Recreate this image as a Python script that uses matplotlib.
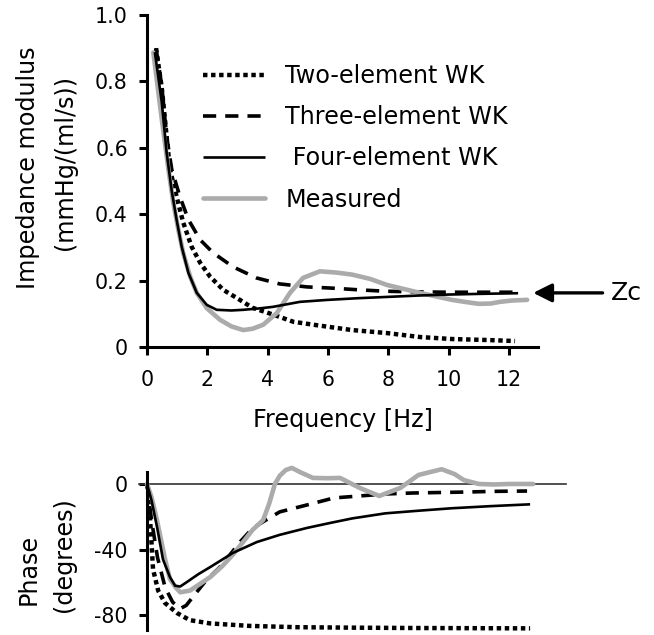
import matplotlib
matplotlib.use("Agg")
import matplotlib.pyplot as plt
from matplotlib.lines import Line2D

plt.rcParams['font.family'] = ['DejaVu Sans']
plt.rcParams['lines.scale_dashes'] = False
plt.rcParams['axes.unicode_minus'] = False

# ---------------- data: impedance modulus ----------------
two_f = [0.3, 0.49, 0.76, 1.03, 1.2, 1.48, 1.76, 2.09, 2.53, 2.97, 3.5, 4.2, 4.85, 5.6, 6.8, 7.95, 9.05, 10.1, 11.3, 12.2]
two_mod = [0.9, 0.78, 0.535, 0.435, 0.375, 0.302, 0.254, 0.212, 0.172, 0.148, 0.118, 0.097, 0.076, 0.066, 0.051, 0.042, 0.03, 0.024, 0.021, 0.018]

three_f = [0.3, 0.49, 0.65, 0.82, 1.09, 1.37, 1.76, 2.2, 2.86, 3.63, 4.4, 5.3, 6.2, 7.05, 7.9, 8.9, 10.0, 11.0, 12.3]
three_mod = [0.9, 0.786, 0.635, 0.535, 0.453, 0.384, 0.323, 0.283, 0.241, 0.208, 0.19, 0.181, 0.177, 0.172, 0.168, 0.166, 0.165, 0.165, 0.165]

four_f = [0.26, 0.49, 0.65, 0.82, 0.98, 1.15, 1.37, 1.65, 1.98, 2.31, 2.8, 3.19, 3.7, 4.18, 5.07, 6.0, 7.0, 8.0, 9.0, 10.0, 11.0, 12.3]
four_mod = [0.888, 0.737, 0.586, 0.47, 0.384, 0.302, 0.224, 0.163, 0.127, 0.112, 0.11, 0.112, 0.116, 0.121, 0.136, 0.142, 0.147, 0.151, 0.155, 0.158, 0.16, 0.162]

meas_f = [0.21, 0.49, 0.71, 0.87, 1.04, 1.2, 1.43, 1.65, 1.98, 2.42, 2.8, 3.19, 3.5, 3.85, 4.3, 4.74, 5.17, 5.73, 6.3, 6.8, 7.4, 7.95, 8.5, 9.05, 9.6, 10.1, 10.6, 11.0, 11.4, 11.7, 12.1, 12.6]
meas_mod = [0.887, 0.686, 0.535, 0.435, 0.353, 0.283, 0.212, 0.163, 0.117, 0.082, 0.062, 0.051, 0.055, 0.067, 0.102, 0.163, 0.208, 0.228, 0.224, 0.218, 0.205, 0.187, 0.175, 0.163, 0.152, 0.142, 0.135, 0.13, 0.131, 0.136, 0.14, 0.142]

zc_value = 0.163

# ---------------- data: phase ----------------
two_pf = [0, 0.05, 0.15, 0.2, 0.37, 0.6, 1.0, 1.42, 2.1, 3.4, 5.0, 7.0, 9.0, 11.0, 12.7]
two_ph = [0, -6, -36, -52, -65, -72.6, -78.7, -83, -85, -86.5, -87.3, -87.6, -87.8, -87.9, -88]

three_pf = [0, 0.15, 0.35, 0.6, 0.85, 1.1, 1.3, 1.6, 1.95, 2.4, 2.8, 3.1, 3.5, 3.85, 4.4, 5.3, 6.2, 7.05, 7.9, 8.8, 9.7, 10.6, 11.5, 12.6]
three_ph = [0, -22, -45, -63, -72, -76, -74, -67, -59, -51, -42, -35, -27, -23, -17, -12.8, -8.5, -7.3, -6.1, -5.5, -5.2, -4.9, -4.5, -4.3]

four_pf = [0, 0.15, 0.33, 0.53, 0.76, 0.93, 1.1, 1.32, 1.7, 2.1, 2.85, 3.64, 4.4, 5.3, 6.06, 6.8, 7.9, 9.0, 10.1, 11.4, 12.7]
four_ph = [0, -10, -26, -46, -56.7, -62, -62.5, -59.8, -55, -50.6, -42, -35.4, -31, -26.8, -23.8, -21, -17.9, -16.3, -14.8, -13.5, -12.4]

meas_pf = [0.0, 0.15, 0.33, 0.6, 0.76, 0.95, 1.1, 1.42, 1.75, 2.1, 2.5, 2.85, 3.2, 3.5, 3.85, 4.05, 4.24, 4.4, 4.6, 4.8, 5.1, 5.5, 6.0, 6.4, 7.05, 7.7, 8.4, 9.0, 9.77, 10.2, 10.5, 11.0, 11.5, 12.0, 12.8]
meas_ph = [0, -8, -22, -46, -58, -63, -66, -65, -61, -56.7, -50, -43, -35, -28, -22, -12, 0, 5, 8.5, 9.8, 7, 3.7, 3.5, 3.7, -2.4, -7.3, -2.4, 5.5, 9, 6, 2.4, 0, -0.3, 0, 0]

labels = ["Two-element WK", "Three-element WK", " Four-element WK", "Measured"]
mod_ticks = [0, 0.2, 0.4, 0.6, 0.8, 1.0]
mod_ticklabels = ["0", "0.2", "0.4", "0.6", "0.8", "1.0"]
freq_ticks = [0, 2, 4, 6, 8, 10, 12]
phase_ticks = [0, -40, -80]
phase_ticklabels = ["0", "-40", "-80"]

# ---------------- styles ----------------
GRAY = '#ababab'
sty_two = dict(color='black', lw=3.2, linestyle=(0, (3.2, 2.6)), dash_capstyle='butt')
sty_three = dict(color='black', lw=2.6, linestyle=(0, (9.5, 6.5)), dash_capstyle='butt')
sty_four = dict(color='black', lw=1.9, solid_capstyle='butt')
sty_meas = dict(color=GRAY, lw=3.3, solid_capstyle='round')

W, H = 654, 635
fig = plt.figure(figsize=(W / 100, H / 100), dpi=100)

SP_LW = 2.2
TICK_LEN = 5.8
FS_TICK = 14.8
FS_LAB = 17.2

# ---------------- top panel ----------------
ax1 = fig.add_axes([147 / W, (H - 347) / H, (538 - 147) / W, 332 / H])
ax1.plot(two_f, two_mod, **sty_two)
ax1.plot(three_f, three_mod, **sty_three)
ax1.plot(meas_f, meas_mod, **sty_meas)
ax1.plot(four_f, four_mod, **sty_four)
ax1.set_xlim(0, 12.96)
ax1.set_ylim(0, 1.0)
for s in ['top', 'right']:
    ax1.spines[s].set_visible(False)
for s in ['left', 'bottom']:
    ax1.spines[s].set_linewidth(SP_LW)
ax1.set_yticks(mod_ticks)
ax1.set_yticklabels(mod_ticklabels)
ax1.set_xticks(freq_ticks)
ax1.tick_params(axis='both', direction='out', length=TICK_LEN, width=SP_LW, labelsize=FS_TICK)
ax1.tick_params(axis='y', pad=8)
ax1.tick_params(axis='x', pad=11)
ax1.set_xlabel("Frequency [Hz]", fontsize=FS_LAB, labelpad=13)

# Zc arrow
ax1.annotate('', xy=(12.8, zc_value), xytext=(15.1, zc_value),
             arrowprops=dict(arrowstyle='-|>', lw=2.4, color='black', mutation_scale=28,
                             shrinkA=0, shrinkB=0),
             annotation_clip=False)
ax1.text(15.38, zc_value, "Zc", fontsize=FS_LAB + 1, va='center', ha='left', clip_on=False)

# legend
handles = [Line2D([], [], **sty_two), Line2D([], [], **sty_three),
           Line2D([], [], **sty_four), Line2D([], [], **sty_meas)]
fig.legend(handles, labels, loc='upper left', bbox_to_anchor=(203 / W, 1 - 64 / H),
           bbox_transform=fig.transFigure, frameon=False, fontsize=FS_LAB,
           handlelength=2.6, handletextpad=0.85, labelspacing=0.72,
           borderpad=0, borderaxespad=0)

# y-label (two lines)
fig.text(28 / W, 1 - 168 / H, "Impedance modulus", rotation=90, ha='center', va='center', fontsize=FS_LAB)
fig.text(65 / W, 1 - 162 / H, "(mmHg/(ml/s))", rotation=90, ha='center', va='center', fontsize=FS_LAB)

# ---------------- bottom panel ----------------
ax2 = fig.add_axes([147 / W, (H - 630) / H, (566 - 147) / W, 158 / H])
ax2.axhline(0, xmin=-0.02, xmax=1, color='#333333', lw=1.2, clip_on=False)
ax2.plot(two_pf, two_ph, clip_on=False, **sty_two)
ax2.plot(three_pf, three_ph, clip_on=False, **sty_three)
ax2.plot(meas_pf, meas_ph, clip_on=False, **sty_meas)
ax2.plot(four_pf, four_ph, clip_on=False, **sty_four)
ax2.set_xlim(0, 13.89)
ax2.set_ylim(-89, 7.3)
for s in ['top', 'right', 'bottom']:
    ax2.spines[s].set_visible(False)
ax2.spines['left'].set_linewidth(SP_LW)
ax2.set_xticks([])
ax2.set_yticks(phase_ticks)
ax2.set_yticklabels(phase_ticklabels)
ax2.tick_params(axis='y', direction='out', length=TICK_LEN, width=SP_LW, labelsize=FS_TICK, pad=8)

fig.text(29 / W, 1 - 569 / H, "Phase", rotation=90, ha='center', va='center', fontsize=FS_LAB)
fig.text(64 / W, 1 - 555 / H, "(degrees)", rotation=90, ha='center', va='center', fontsize=FS_LAB)

fig.savefig("out.png", dpi=100)
